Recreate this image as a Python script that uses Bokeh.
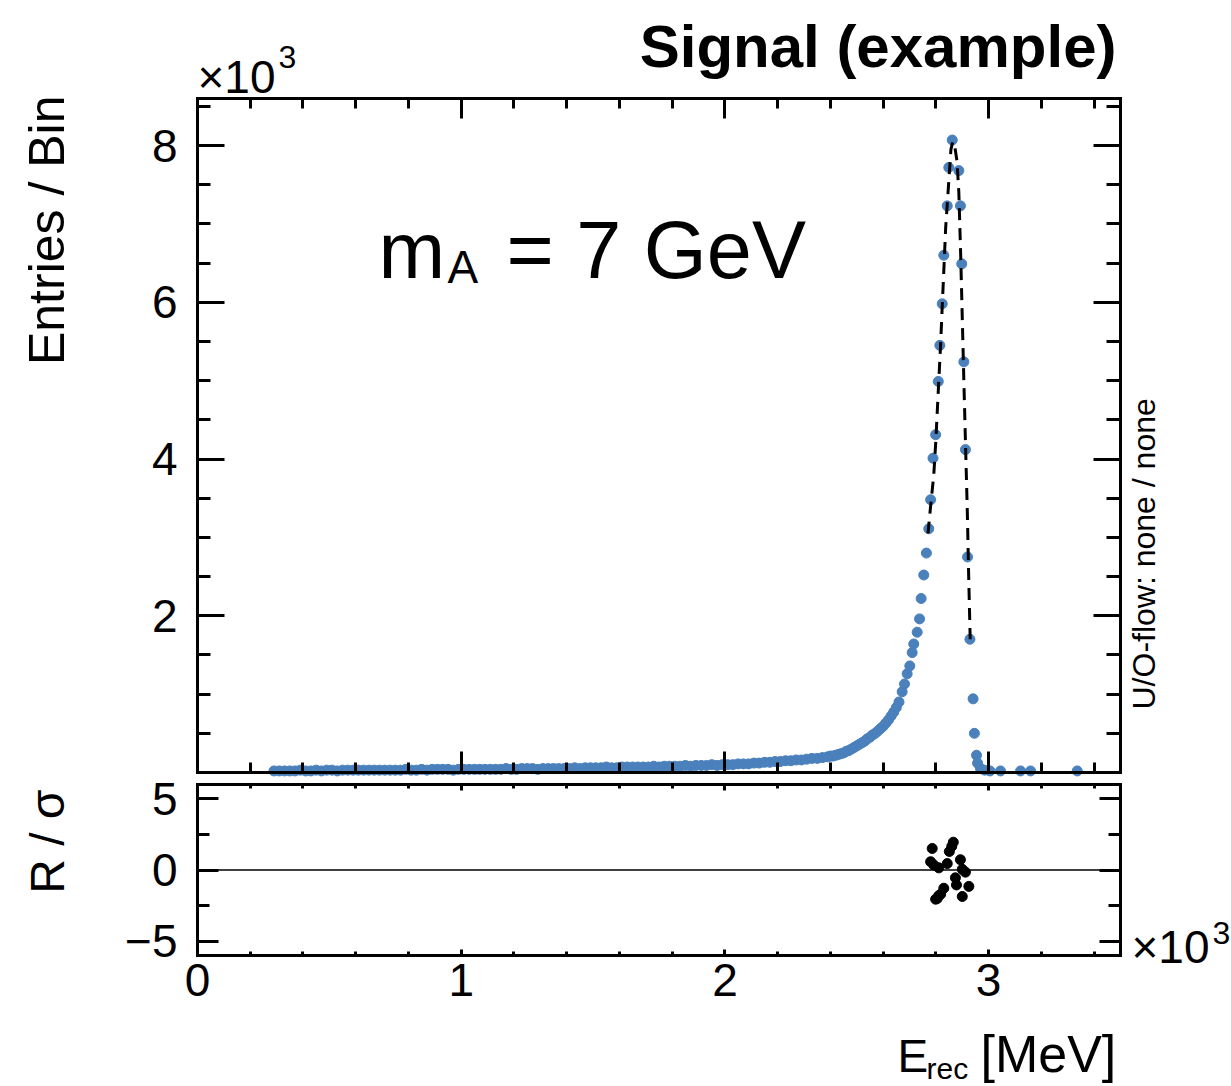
import numpy as np
from math import pi
from bokeh.plotting import figure
from bokeh.models import Range1d, LinearAxis, FixedTicker, Label
from bokeh.embed import file_html
from bokeh.resources import INLINE

# ---------------- data (energy in 10^3 MeV, entries in 10^3) ----------------
tail_first_mev = 290
tail_step_mev = 20
tail_entries = [
    0.02, 0.02, 0.02, 0.02, 0.02, 0.03, 0.02, 0.02, 0.03, 0.02, 0.03,
    0.03, 0.02, 0.03, 0.03, 0.03, 0.03, 0.03, 0.03, 0.03, 0.03, 0.03, 0.03, 0.03, 0.03, 0.04,
    0.03, 0.03, 0.04, 0.03, 0.04, 0.04, 0.04, 0.04, 0.03, 0.04, 0.04, 0.04, 0.04, 0.04, 0.04,
    0.04, 0.04, 0.04, 0.05, 0.04, 0.04, 0.05, 0.05, 0.05, 0.04, 0.05, 0.05, 0.05, 0.05, 0.05,
    0.05, 0.06, 0.05, 0.06, 0.06, 0.06, 0.06, 0.07, 0.06, 0.06, 0.07, 0.07, 0.07, 0.07, 0.07,
    0.07, 0.08, 0.07, 0.08, 0.08, 0.08, 0.08, 0.09, 0.08, 0.09, 0.09, 0.09, 0.10, 0.09, 0.10,
    0.10, 0.10, 0.11, 0.11, 0.11, 0.12, 0.12, 0.13, 0.13, 0.14, 0.14, 0.15, 0.15, 0.16, 0.16,
    0.17, 0.18, 0.18, 0.19, 0.20,
]
rise_first_mev = 2400
rise_step_mev = 10
rise_entries = [
    0.21, 0.21, 0.22, 0.23, 0.24, 0.25, 0.27, 0.28, 0.30, 0.32, 0.34, 0.36, 0.38, 0.40,
    0.43, 0.45, 0.48, 0.50, 0.53, 0.56, 0.59, 0.63, 0.67, 0.72, 0.77, 0.83, 0.90,
]
peak_energy = [
    2.672, 2.681, 2.691, 2.701, 2.710, 2.716, 2.729, 2.738, 2.744, 2.754, 2.764, 2.773,
    2.780, 2.789, 2.799, 2.809, 2.815, 2.824, 2.830, 2.843, 2.849, 2.862, 2.887, 2.893,
    2.898, 2.906, 2.912, 2.920, 2.929, 2.941, 2.946, 2.954, 2.958, 2.969, 2.985, 3.005,
    3.045, 3.121, 3.159, 3.336,
]
peak_entries = [
    1.03, 1.13, 1.26, 1.36, 1.53, 1.64, 1.79, 1.96, 2.22, 2.52, 2.80, 3.11,
    3.48, 4.01, 4.31, 4.99, 5.45, 5.98, 6.60, 7.23, 7.72, 8.07, 7.68, 7.23,
    6.49, 5.24, 4.12, 2.75, 1.70, 0.94, 0.50, 0.22, 0.12, 0.05, 0.03, 0.02,
    0.02, 0.02, 0.02, 0.02,
]
fit_energy = [
    2.770, 2.780, 2.792, 2.800, 2.808, 2.818, 2.824, 2.830, 2.837, 2.849, 2.857, 2.864,
    2.872, 2.880, 2.887, 2.894, 2.900, 2.906, 2.913, 2.919, 2.924, 2.930,
]
fit_entries = [
    3.05, 3.40, 3.80, 4.25, 4.80, 5.47, 5.95, 6.40, 6.95, 7.55, 7.95, 8.05,
    7.98, 7.80, 7.40, 6.60, 5.80, 5.00, 4.10, 3.35, 2.55, 1.70,
]
resid_energy = [
    2.786, 2.866, 2.860, 2.851, 2.780, 2.792, 2.811, 2.843, 2.893, 2.900,
    2.912, 2.874, 2.878, 2.925, 2.830, 2.818, 2.805, 2.900, 2.799, 2.811,
]
resid_pull = [
    1.51, 1.95, 1.65, 1.30, 0.58, 0.35, 0.15, 0.45, 0.72, 0.05,
    -0.15, -0.55, -1.05, -1.15, -1.28, -1.70, -2.00, -1.86, -2.05, -1.80,
]
x_major = [0, 1, 2, 3]
y_major = [2, 4, 6, 8]
r_major = [-5, 0, 5]

tail_energy = (tail_first_mev + tail_step_mev * np.arange(len(tail_entries))) / 1000.0
rise_energy = (rise_first_mev + rise_step_mev * np.arange(len(rise_entries))) / 1000.0
all_energy = np.concatenate([tail_energy, rise_energy, np.array(peak_energy)])
all_entries = np.concatenate([tail_entries, rise_entries, peak_entries])

# ---------------- layout / styling ----------------
FONT = "Liberation Sans"
BLUE = "#4a80bb"
W, H = 1231, 1086
FL, FR = 197, 1120           # panel left/right in px
T_TOP, T_BOT = 98, 772       # upper panel px
B_TOP, B_BOT = 784, 955      # lower panel px
XMAX, YMAX, RLIM = 3.5, 8.6, 6.0
MID = 0.35                   # distance baseline -> text middle, in em

x_minor = [i / 5 for i in range(1, 18) if i % 5]
y_minor = [i / 2 for i in range(1, 18) if i % 4]
r_minor = [-2.5, 2.5]


def x_of(px):
    return (px - FL) / (FR - FL) * XMAX


def y1_of(py):
    return (T_BOT - py) / (T_BOT - T_TOP) * YMAX


def y2_of(py):
    return RLIM - (py - B_TOP) / (B_BOT - B_TOP) * 2 * RLIM


def make_axis(major, minor, tin, min_in, loc, bounds, labels=False, standoff=20,
              overrides=None, y_range_name="default"):
    ax = LinearAxis(ticker=FixedTicker(ticks=major, minor_ticks=minor),
                    fixed_location=loc, bounds=bounds, y_range_name=y_range_name)
    ax.axis_line_width = 3
    ax.axis_line_color = "black"
    ax.axis_line_cap = "square"
    ax.major_tick_in = tin
    ax.major_tick_out = 0
    ax.minor_tick_in = min_in
    ax.minor_tick_out = 0
    ax.major_tick_line_width = 3
    ax.minor_tick_line_width = 3
    ax.major_tick_line_color = "black"
    ax.minor_tick_line_color = "black"
    if labels:
        ax.major_label_text_font = FONT
        ax.major_label_text_font_size = "46px"
        ax.major_label_text_color = "black"
        ax.major_label_standoff = standoff
        if overrides:
            ax.major_label_overrides = overrides
    else:
        ax.major_label_text_color = None
    return ax


def lab(fig, text, px, base_py, size, bold=False, align="left"):
    """horizontal text; px = anchor x, base_py = baseline y (page pixels)"""
    fig.add_layout(Label(x=x_of(px), y=y1_of(base_py - MID * size), text=text,
                         text_font=FONT, text_font_size=f"{size}px",
                         text_font_style="bold" if bold else "normal",
                         text_color="black", text_align=align,
                         text_baseline="middle"))


def vlab(fig, text, base_px, py, size, align="right"):
    """text rotated to read upwards; base_px = baseline x, py = anchor y"""
    fig.add_layout(Label(x=x_of(base_px - MID * size), y=y1_of(py), text=text,
                         text_font=FONT, text_font_size=f"{size}px",
                         text_color="black", angle=pi / 2, text_align=align,
                         text_baseline="middle"))


p = figure(width=W, height=H,
           x_range=Range1d(x_of(0), x_of(W)),
           y_range=Range1d(y1_of(H), y1_of(0)),
           x_axis_location=None, y_axis_location=None, title=None,
           toolbar_location=None, output_backend="svg",
           min_border=0, min_border_left=0, min_border_right=0,
           min_border_top=0, min_border_bottom=0)
p.extra_y_ranges = {"resid": Range1d(y2_of(H), y2_of(0))}
p.outline_line_color = None
p.xgrid.grid_line_color = None
p.ygrid.grid_line_color = None
p.background_fill_color = "white"
p.border_fill_color = "white"

# upper panel axes
p.add_layout(make_axis(y_major, y_minor, 27, 13, 0, (0, YMAX), labels=True, standoff=20), "left")
p.add_layout(make_axis(y_major, y_minor, 27, 14, XMAX, (0, YMAX)), "right")
p.add_layout(make_axis(x_major, x_minor, 20, 10, YMAX, (0, XMAX)), "above")
p.add_layout(make_axis(x_major, x_minor, 21, 10, 0, (0, XMAX)), "below")

# lower (residual) panel axes
p.add_layout(make_axis(r_major, r_minor, 21, 12, 0, (-RLIM, RLIM), labels=True,
                       standoff=20, overrides={-5: "−5"}, y_range_name="resid"), "left")
p.add_layout(make_axis(r_major, r_minor, 21, 12, XMAX, (-RLIM, RLIM),
                       y_range_name="resid"), "right")
p.add_layout(make_axis(x_major, x_minor, 6, 4, RLIM, (0, XMAX),
                       y_range_name="resid"), "above")
p.add_layout(make_axis(x_major, x_minor, 6, 4, -RLIM, (0, XMAX), labels=True,
                       standoff=8, y_range_name="resid"), "below")

# data
p.scatter(all_energy, all_entries, size=10, color=BLUE, line_color=BLUE)
p.line(fit_energy, fit_entries, line_color="black", line_width=3, line_dash="12 8")
p.line([0, XMAX], [0, 0], line_color="black", line_width=1.5, y_range_name="resid")
p.scatter(resid_energy, resid_pull, size=10, color="black", y_range_name="resid")

# texts
lab(p, "Signal (example)", 1116, 67, 60, bold=True, align="right")
lab(p, "×10", 197, 93, 46)
lab(p, "3", 278, 68, 32)
vlab(p, "Entries / Bin", 64, 95, 50, align="right")
lab(p, "m", 378, 278, 80)
lab(p, "A", 447, 283, 46)
lab(p, "= 7 GeV", 506, 278, 81)
vlab(p, "U/O-flow: none / none", 1155, 709, 32, align="left")

vlab(p, "R / σ", 64, 789, 48, align="right")
lab(p, "×10", 1131, 963, 46)
lab(p, "3", 1212, 944, 32)
lab(p, "E", 897, 1072, 46)
lab(p, "rec", 926, 1078, 30)
lab(p, "[MeV]", 980, 1072, 52)

open("out.html", "w").write(file_html(p, INLINE))
